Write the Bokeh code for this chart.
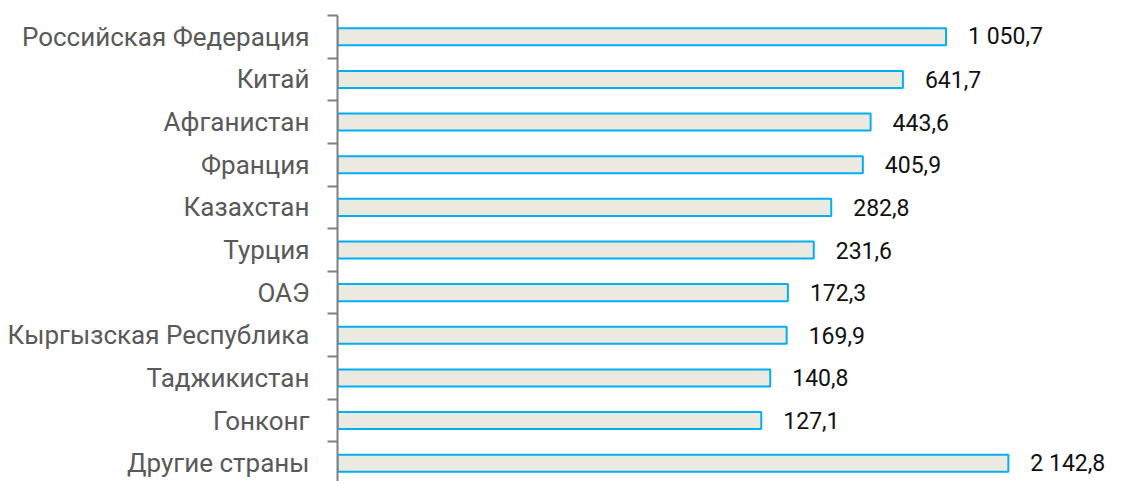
from bokeh.plotting import figure
from bokeh.models import ColumnDataSource, Range1d, FixedTicker
from bokeh.embed import file_html
from bokeh.resources import INLINE
from bokeh.core.properties import value

countries = ["Российская Федерация", "Китай", "Афганистан", "Франция", "Казахстан",
             "Турция", "ОАЭ", "Кыргызская Республика", "Таджикистан", "Гонконг",
             "Другие страны"]
values = [1050.7, 641.7, 443.6, 405.9, 282.8, 231.6, 172.3, 169.9, 140.8, 127.1, 2142.8]


def fmt(v):
    return f"{v:,.1f}".replace(",", " ").replace(".", ",")


n = len(countries)
ypos = [n - 1 - i for i in range(n)]
src = ColumnDataSource(dict(
    y=ypos, v=values, left=[1] * n, label=[fmt(v) for v in values]))

left_border = 337
frame_w = 1136 - left_border
x_end = 10 ** (frame_w / 201.4)

p = figure(width=1136, height=484, output_backend="svg", toolbar_location=None,
           x_axis_type="log", x_range=Range1d(1, x_end), y_range=Range1d(-0.5, n - 0.5),
           min_border_left=left_border, min_border_right=0, min_border_top=15,
           min_border_bottom=0)
p.outline_line_color = None
p.grid.visible = False
p.xaxis.visible = False

p.hbar(y="y", left="left", right="v", height=0.4, source=src,
       fill_color="#ECE9E0", line_color="#00B0F0", line_width=2)
p.text(x="v", y="y", text="label", source=src, x_offset=22, text_baseline="middle",
       text_align="left", text_font=value("Roboto"), text_font_size="23px",
       text_color="#111111")

ya = p.yaxis[0]
ya.ticker = FixedTicker(ticks=ypos, minor_ticks=[k - 0.5 for k in range(n + 1)])
ya.major_label_overrides = {y: c for y, c in zip(ypos, countries)}
ya.major_tick_out = 0
ya.major_tick_in = 0
ya.minor_tick_out = 10
ya.minor_tick_in = 0
ya.minor_tick_line_color = "#808080"
ya.minor_tick_line_width = 2
ya.axis_line_color = "#808080"
ya.axis_line_width = 2
ya.major_label_standoff = 18
ya.major_label_text_font = "Roboto"
ya.major_label_text_font_size = "26px"
ya.major_label_text_color = "#595959"

open("out.html", "w").write(file_html(p, INLINE))
